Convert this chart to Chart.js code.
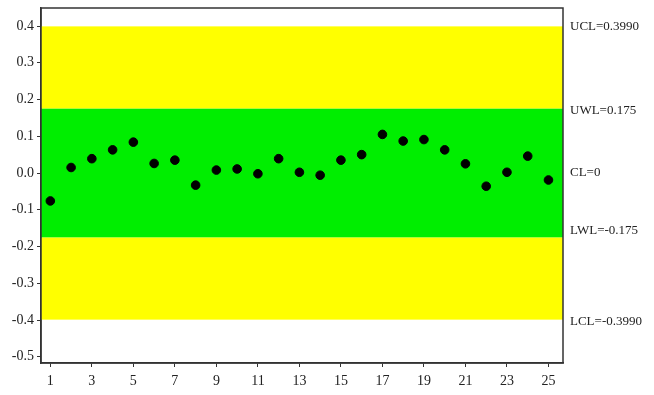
<!DOCTYPE html>
<html>
<head>
<meta charset="utf-8">
<script src="https://cdn.jsdelivr.net/npm/chart.js@4/dist/chart.umd.min.js"></script>
<style>
html,body{margin:0;padding:0;background:#fff;}
#wrap{position:relative;width:654px;height:395px;}
</style>
</head>
<body>
<div id="wrap"><canvas id="c" width="654" height="395"></canvas></div>
<script>
// Sample numbers (x axis)
const samples = [1,2,3,4,5,6,7,8,9,10,11,12,13,14,15,16,17,18,19,20,21,22,23,24,25];
// Observed values
const values = [-0.076,0.015,0.039,0.063,0.084,0.026,0.035,-0.033,0.008,0.011,-0.002,0.039,0.002,-0.006,0.035,0.050,0.105,0.087,0.091,0.063,0.025,-0.036,0.002,0.046,-0.019];
// Control / warning limits
const limitNames = ["UCL=0.3990","UWL=0.175","CL=0","LWL=-0.175","LCL=-0.3990"];
const limitValues = [0.399,0.175,0,-0.175,-0.399];
// Tick labels
const xTicks = [1,3,5,7,9,11,13,15,17,19,21,23,25];
const yTicks = [-0.5,-0.4,-0.3,-0.2,-0.1,0,0.1,0.2,0.3,0.4];

const FONT = "'Liberation Serif', 'Times New Roman', serif";

const bandsPlugin = {
  id: 'bands',
  beforeDatasetsDraw(chart) {
    const {ctx, chartArea: a, scales: {y}} = chart;
    const ucl = y.getPixelForValue(limitValues[0]);
    const uwl = y.getPixelForValue(limitValues[1]);
    const lwl = y.getPixelForValue(limitValues[3]);
    const lcl = y.getPixelForValue(limitValues[4]);
    ctx.save();
    ctx.fillStyle = '#ffff00';
    ctx.fillRect(a.left, ucl, a.right - a.left, uwl - ucl);
    ctx.fillRect(a.left, lwl, a.right - a.left, lcl - lwl);
    ctx.fillStyle = '#00ee00';
    ctx.fillRect(a.left, uwl, a.right - a.left, lwl - uwl);
    ctx.restore();
  },
  afterDatasetsDraw(chart) {
    const {ctx, chartArea: a, scales: {y}} = chart;
    ctx.save();
    ctx.strokeStyle = '#333';
    ctx.lineWidth = 1.5;
    ctx.strokeRect(a.left, a.top, a.right - a.left, a.bottom - a.top);
    ctx.fillStyle = '#222';
    ctx.font = "13px " + FONT;
    ctx.textAlign = 'left';
    ctx.textBaseline = 'middle';
    const offsets = [0, 2, 0, -7, 2];
    limitNames.forEach((n, i) => {
      ctx.fillText(n, a.right + 7, y.getPixelForValue(limitValues[i]) + offsets[i]);
    });
    ctx.restore();
  }
};

new Chart(document.getElementById('c'), {
  type: 'scatter',
  data: {
    datasets: [{
      data: samples.map((s, i) => ({x: s, y: values[i]})),
      backgroundColor: '#000',
      borderColor: '#000',
      pointRadius: 4.3,
      pointHoverRadius: 4.3,
      showLine: false
    }]
  },
  options: {
    responsive: false,
    animation: false,
    events: [],
    layout: {padding: {left: 0, right: 91, top: 8, bottom: 0}},
    plugins: {legend: {display: false}, tooltip: {enabled: false}},
    scales: {
      x: {
        type: 'linear',
        min: 0.55,
        max: 25.7,
        afterBuildTicks(s) { s.ticks = xTicks.map(v => ({value: v})); },
        afterFit(s) { s.height = 32; s.paddingLeft = 0; s.paddingRight = 0; },
        grid: {display: true, drawOnChartArea: false, tickLength: 4, color: '#333', lineWidth: 1},
        border: {display: true, color: '#333', width: 1.5},
        ticks: {color: '#222', font: {family: FONT, size: 14}, padding: 6, maxRotation: 0, autoSkip: false,
          callback: v => String(v)}
      },
      y: {
        type: 'linear',
        min: -0.517,
        max: 0.449,
        afterBuildTicks(s) { s.ticks = yTicks.map(v => ({value: v})); },
        afterFit(s) { s.width = 41; s.paddingTop = 0; s.paddingBottom = 0; },
        grid: {display: true, drawOnChartArea: false, tickLength: 4, color: '#333', lineWidth: 1},
        border: {display: true, color: '#333', width: 1.5},
        ticks: {color: '#222', font: {family: FONT, size: 14}, padding: 3, autoSkip: false,
          callback: v => v.toFixed(1)}
      }
    }
  },
  plugins: [bandsPlugin]
});
</script>
</body>
</html>
